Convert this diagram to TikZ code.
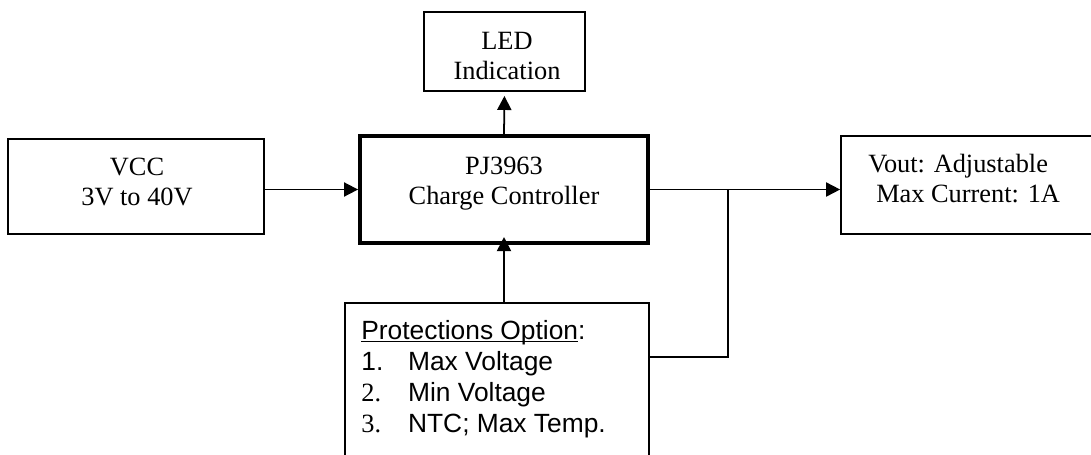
\documentclass[tikz,border=0pt]{standalone}
\usepackage{fontspec}
\setmainfont{Liberation Serif}
\newfontfamily\arialfont{Liberation Sans}
\usetikzlibrary{arrows.meta}
\newcommand{\wordline}[1]{\setbox0\hbox{#1}\rlap{\rule[-1.6pt]{\wd0}{0.8pt}}#1}

\begin{document}
\begin{tikzpicture}[x=0.02cm, y=-0.02cm, font=\fontsize{15}{17}\selectfont]
    % Define the styles for the blocks, their texts and the signal arrows
    \tikzstyle{block} = [draw, line width=1pt, inner sep=0pt]
    \tikzstyle{blocktext} = [align=center, anchor=base, inner sep=0pt]
    \tikzstyle{signal} = [-{Triangle[length=8pt, width=8pt]}, line width=1pt]

    \useasboundingbox (0,0) rectangle (1091,454);
    \clip (0,0) rectangle (1091,454);

    % Supply on the left
    \node[block, minimum width=5.12cm, minimum height=1.9cm] (vcc) at (136,186.5) {};
    \node[blocktext] (vcc-text) at (137,205) {VCC \\ 3V to 40V};

    % Charge controller in the middle
    \node[block, line width=2.2pt, minimum width=5.76cm, minimum height=2.14cm] (ctrl) at (504,189.5) {};
    \node[blocktext] (ctrl-text) at (504,204) {PJ3963 \\ Charge Controller};

    % LED indication on top
    \node[block, minimum width=3.22cm, minimum height=1.58cm] (led) at (504.5,51.5) {};
    \node[blocktext] (led-text) at (507,79) {LED \\ Indication};

    % Output on the right (cut by the page edge)
    \node[block, minimum width=5.4cm, minimum height=1.96cm] (out) at (976,185) {};
    \node[blocktext, align=left, anchor=base west] (out-text) at (868,202) {Vout: Adjustable \\ \hspace{4.5pt}Max Current: 1A};

    % Protections below (cut by the page edge)
    \node[block, minimum width=6.08cm, minimum height=4cm] (prot) at (497,403) {};
    \node[blocktext, align=left, anchor=base west, font=\arialfont\fontsize{15}{17.6}\selectfont] (prot-text) at (361,432)
        {\wordline{Protections Option}: \\
         \makebox[26.6pt][l]{1.}Max Voltage \\
         \makebox[26.6pt][l]{\rmfamily 2.}Min Voltage \\
         \makebox[26.6pt][l]{\rmfamily 3.}NTC; Max Temp.};

    % Signal arrows between the blocks
    \draw[signal, shorten >=2.3pt] (ctrl.north) -- (led.south);
    \draw[signal] (vcc.east |- ctrl.west) -- (ctrl.west);
    \draw[signal] (ctrl.east) -- (out.west |- ctrl.east);
    \draw[signal, shorten >=-4.5pt] (ctrl.south |- prot.north) -- (ctrl.south);

    % Protections also tap the output line
    \coordinate (tap) at (728,0);
    \draw[line width=1pt] (ctrl.east -| tap) |- ([yshift=-1.1cm]prot.north east);
\end{tikzpicture}
\end{document}
